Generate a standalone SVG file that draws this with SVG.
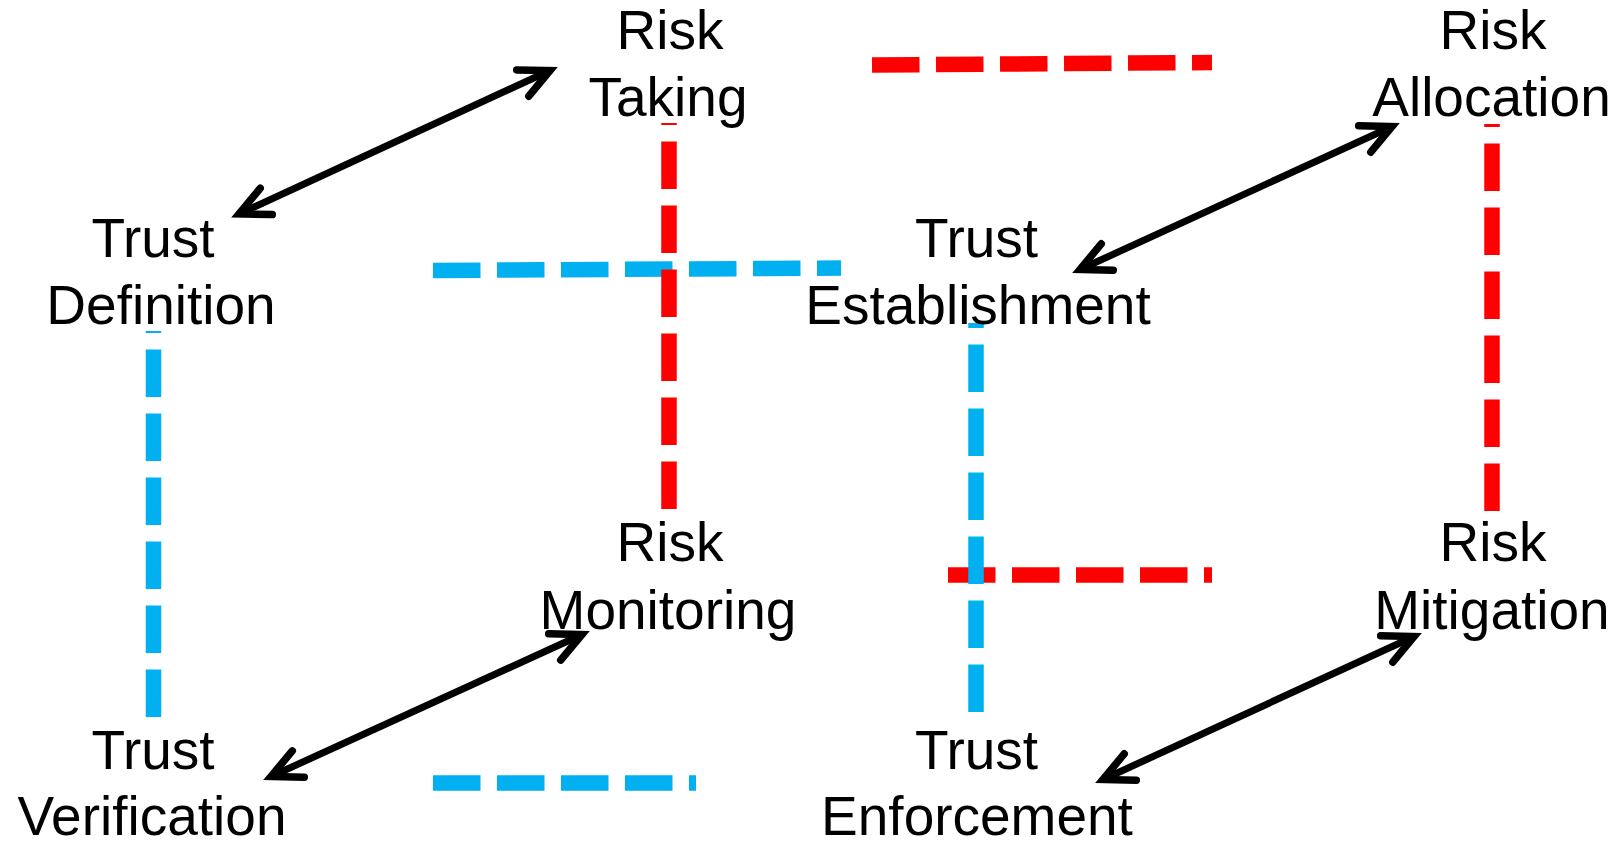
<svg xmlns="http://www.w3.org/2000/svg" width="1621" height="842" viewBox="0 0 1621 842">
  <style>
    .lbl { font-family: "Liberation Sans", Arial, sans-serif; font-size: 55px; fill: #000; text-anchor: middle; }
    .risk { stroke: #FF0000; stroke-width: 15.5; fill: none; stroke-dasharray: 47.5 16.5; }
    .trust { stroke: #00B0F0; stroke-width: 15.5; fill: none; stroke-dasharray: 47.5 16.5; }
    .pair { stroke: #000; stroke-width: 7; fill: none; marker-start: url(#vhead); marker-end: url(#vhead); }
  </style>
  <defs>
    <marker id="vhead" markerUnits="userSpaceOnUse" viewBox="-40 -22 48 44" refX="0" refY="0" markerWidth="48" markerHeight="44" orient="auto-start-reverse" overflow="visible">
      <path d="M -30,-14.5 L 0,0 L -30,14.5" fill="none" stroke="#000" stroke-width="7.5" stroke-linecap="round" stroke-linejoin="miter"/>
    </marker>
  </defs>
  <rect width="1621" height="842" fill="#fff"/>

  <g id="connectors">
    <!-- trust-side dashed edges -->
    <line class="trust" x1="433" y1="270.5" x2="841" y2="268"/>
    <line class="trust" x1="433" y1="783" x2="696" y2="783"/>
    <line class="trust" x1="153.5" y1="717" x2="153.5" y2="331"/>
    <!-- risk-side dashed edges -->
    <line class="risk" x1="669" y1="509" x2="669" y2="123"/>
    <line class="risk" x1="1492" y1="511" x2="1492" y2="124"/>
    <line class="risk" x1="872" y1="65" x2="1212" y2="62.5"/>
    <line class="risk" x1="948" y1="575" x2="1212" y2="575"/>
    <line class="trust" x1="976" y1="712" x2="976" y2="323"/>
    <!-- trust/risk pairings -->
    <line class="pair" x1="239" y1="214" x2="550" y2="70.5"/>
    <line class="pair" x1="1080" y1="269.5" x2="1392" y2="126.5"/>
    <line class="pair" x1="271" y1="776.5" x2="582" y2="634.5"/>
    <line class="pair" x1="1103" y1="779.5" x2="1414" y2="636.5"/>
  </g>

  <g id="risk-taking">
    <text class="lbl" x="670" y="49">Risk</text>
    <text class="lbl" x="668" y="116">Taking</text>
  </g>
  <g id="risk-allocation">
    <text class="lbl" x="1493" y="49">Risk</text>
    <text class="lbl" x="1491.5" y="116">Allocation</text>
  </g>
  <g id="trust-definition">
    <text class="lbl" x="153" y="257">Trust</text>
    <text class="lbl" x="161" y="324">Definition</text>
  </g>
  <g id="trust-establishment">
    <text class="lbl" x="976.5" y="257">Trust</text>
    <text class="lbl" x="978" y="324">Establishment</text>
  </g>
  <g id="risk-monitoring">
    <text class="lbl" x="670" y="561">Risk</text>
    <text class="lbl" x="668" y="629">Monitoring</text>
  </g>
  <g id="risk-mitigation">
    <text class="lbl" x="1493" y="561">Risk</text>
    <text class="lbl" x="1492" y="629">Mitigation</text>
  </g>
  <g id="trust-verification">
    <text class="lbl" x="153" y="769">Trust</text>
    <text class="lbl" x="152" y="835">Verification</text>
  </g>
  <g id="trust-enforcement">
    <text class="lbl" x="976.5" y="769">Trust</text>
    <text class="lbl" x="977" y="835">Enforcement</text>
  </g>
</svg>
